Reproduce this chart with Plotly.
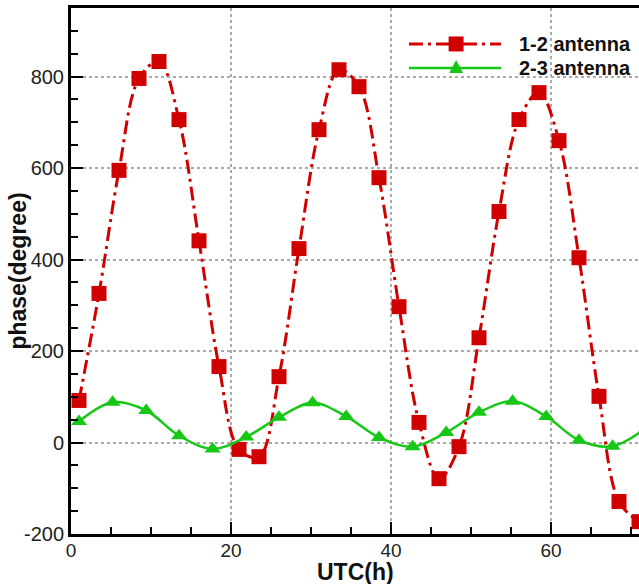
import plotly.graph_objects as go

# 1-2 antenna (red squares)
red_x = [1.0, 3.5, 6.0, 8.5, 11.0, 13.5, 16.0, 18.5, 21.0, 23.5, 26.0, 28.5, 31.0, 33.5,
         36.0, 38.5, 41.0, 43.5, 46.0, 48.5, 51.0, 53.5, 56.0, 58.5, 61.0, 63.5, 66.0,
         68.5, 71.0]
red_y = [92, 326, 595, 796, 833, 706, 441, 166, -15, -31, 144, 424, 684, 815,
         778, 579, 297, 44, -79, -9, 229, 505, 706, 765, 660, 404, 101,
         -129, -173]

# 2-3 antenna (green triangles)
green_x = [1.0, 5.2, 9.4, 13.5, 17.7, 21.9, 26.0, 30.2, 34.4, 38.5, 42.7, 46.9,
           51.0, 55.2, 59.4, 63.5, 67.7, 71.9]
green_y = [46, 88, 70, 15, -14, 12, 55, 87, 57, 11, -9, 22, 66, 90, 57, 5, -8, 32]

series_names = ["1-2 antenna", "2-3 antenna"]
x_ticks = [0, 20, 40, 60]
y_ticks = [-200, 0, 200, 400, 600, 800]

FONT = "Liberation Sans, Arial, sans-serif"
RED = "#d00000"
GREEN = "#16c816"
RED_DASH = "14px,5px,3px,5px"

fig = go.Figure()
fig.add_trace(go.Scatter(
    x=red_x, y=red_y, mode="lines+markers", name=series_names[0],
    line=dict(color=RED, width=3, dash=RED_DASH, shape="spline", smoothing=1.0),
    marker=dict(symbol="square", size=15, color=RED),
    cliponaxis=True, showlegend=False, hoverinfo="skip",
))
fig.add_trace(go.Scatter(
    x=green_x, y=green_y, mode="lines+markers", name=series_names[1],
    line=dict(color=GREEN, width=2.5, shape="spline", smoothing=1.0),
    marker=dict(symbol="triangle-up", size=14, color=GREEN),
    cliponaxis=True, showlegend=False, hoverinfo="skip",
))

# custom legend (line samples, marker symbols and labels)
rows = [0.9316, 0.886]
lx0, lx1, lxm, ltext = 0.595, 0.757, 0.678, 0.785
shapes = [
    dict(type="line", xref="paper", yref="paper", x0=lx0, x1=lx1, y0=rows[0], y1=rows[0],
         line=dict(color=RED, width=3, dash=RED_DASH)),
    dict(type="rect", xref="paper", yref="paper", xsizemode="pixel", ysizemode="pixel",
         xanchor=lxm, yanchor=rows[0], x0=-7.5, x1=7.5, y0=-7.5, y1=7.5,
         fillcolor=RED, line=dict(width=0)),
    dict(type="line", xref="paper", yref="paper", x0=lx0, x1=lx1, y0=rows[1], y1=rows[1],
         line=dict(color=GREEN, width=2.5)),
    dict(type="path", xref="paper", yref="paper", xsizemode="pixel", ysizemode="pixel",
         xanchor=lxm, yanchor=rows[1], path="M-7,-5 L7,-5 L0,8 Z",
         fillcolor=GREEN, line=dict(width=0)),
]
annotations = [
    dict(text="<b>%s</b>" % series_names[i], xref="paper", yref="paper", x=ltext, y=rows[i],
         xanchor="left", yanchor="middle", showarrow=False,
         font=dict(family=FONT, size=20, color="#111111"))
    for i in range(2)
]
annotations += [
    dict(text="<b>UTC(h)</b>", xref="paper", yref="paper", x=0.5, y=-0.073,
         xanchor="center", yanchor="middle", showarrow=False,
         font=dict(family=FONT, size=23, color="#111111")),
    dict(text="<b>phase(degree)</b>", xref="paper", yref="paper", x=-0.094, y=0.5,
         xanchor="center", yanchor="middle", showarrow=False, textangle=-90,
         font=dict(family=FONT, size=23, color="#111111")),
]

fig.update_layout(
    width=639, height=584,
    margin=dict(l=71, r=0, t=8, b=50),
    paper_bgcolor="white", plot_bgcolor="white",
    font=dict(family=FONT, color="#222222", size=19),
    showlegend=False,
    hovermode=False,
    shapes=shapes,
    annotations=annotations,
    xaxis=dict(
        range=[0, 71], tickvals=x_ticks, ticktext=[str(v) for v in x_ticks],
        showline=True, linecolor="black", linewidth=3, mirror=True,
        ticks="inside", ticklen=12, tickwidth=2, tickcolor="black",
        minor=dict(dtick=5, tick0=0, ticks="inside", ticklen=7, tickwidth=1.5, tickcolor="black", showgrid=False),
        showgrid=True, gridcolor="#aaaaaa", griddash="dot", gridwidth=1.5,
        zeroline=False, automargin=False, ticklabelstandoff=-3,
        tickfont=dict(size=19, color="#222222"),
    ),
    yaxis=dict(
        range=[-200, 950], tickvals=y_ticks, ticktext=[str(v) for v in y_ticks],
        showline=True, linecolor="black", linewidth=3, mirror=False,
        ticks="inside", ticklen=12, tickwidth=2, tickcolor="black",
        minor=dict(dtick=50, tick0=0, ticks="inside", ticklen=7, tickwidth=1.5, tickcolor="black", showgrid=False),
        showgrid=True, gridcolor="#aaaaaa", griddash="dot", gridwidth=1.5,
        zeroline=False, automargin=False,
        tickfont=dict(size=20, color="#222222"),
    ),
)

fig.write_html("out.html", config={"displayModeBar": False},
               post_script="document.body.style.margin='0';")
